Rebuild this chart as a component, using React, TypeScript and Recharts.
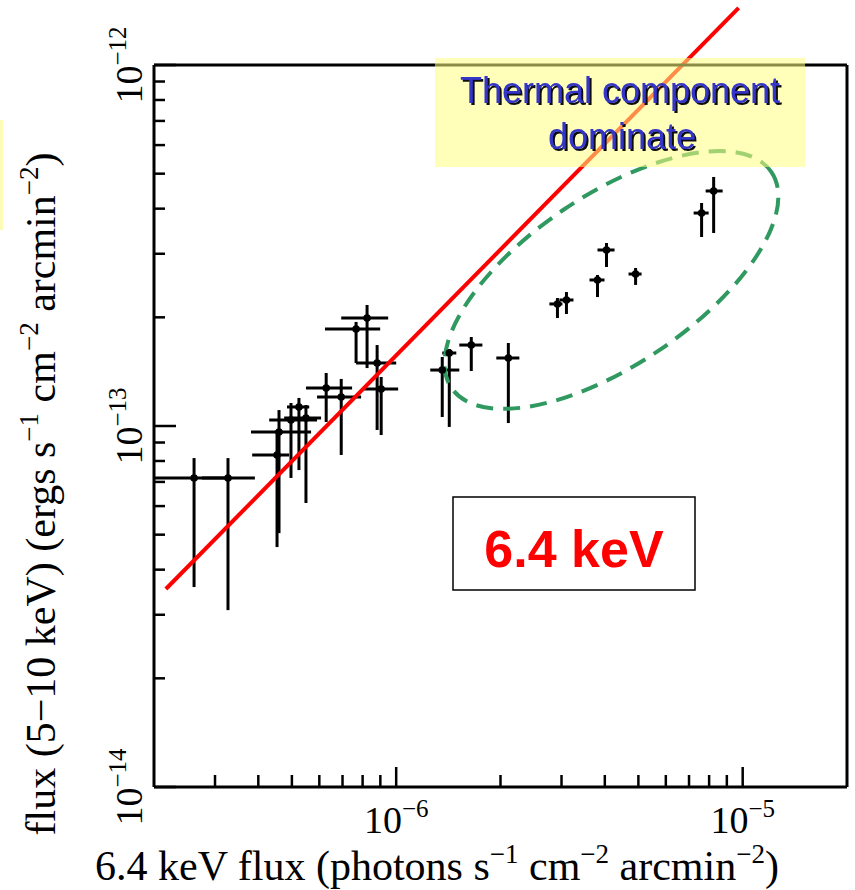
import React from 'react';
import { ScatterChart, Scatter, XAxis, YAxis, ErrorBar, ReferenceLine, ReferenceDot } from 'recharts';

// 6.4 keV line flux (photons s^-1 cm^-2 arcmin^-2): value, lower, upper
const xVal = [2.61e-7, 3.27e-7, 4.53e-7, 4.59e-7, 4.97e-7, 5.24e-7, 5.49e-7, 6.28e-7, 6.94e-7, 7.66e-7, 8.24e-7, 8.81e-7, 9.05e-7, 1.358e-6, 1.423e-6, 1.647e-6, 2.107e-6, 2.92e-6, 3.1e-6, 3.81e-6, 4.045e-6, 4.908e-6, 7.61e-6, 8.245e-6];
const xLow = [2.0e-7, 2.75e-7, 3.84e-7, 3.81e-7, 4.3e-7, 4.84e-7, 4.75e-7, 5.49e-7, 5.91e-7, 6.23e-7, 6.94e-7, 7.66e-7, 8.08e-7, 1.254e-6, 1.358e-6, 1.521e-6, 1.945e-6, 2.768e-6, 2.959e-6, 3.613e-6, 3.81e-6, 4.683e-6, 7.218e-6, 7.818e-6];
const xHigh = [3.3e-7, 3.91e-7, 4.91e-7, 5.68e-7, 5.91e-7, 5.61e-7, 6.07e-7, 7.46e-7, 7.92e-7, 8.99e-7, 9.48e-7, 1.0e-6, 1.013e-6, 1.521e-6, 1.491e-6, 1.773e-6, 2.267e-6, 3.018e-6, 3.248e-6, 3.992e-6, 4.267e-6, 5.107e-6, 7.974e-6, 8.753e-6];

// 5-10 keV flux (ergs s^-1 cm^-2 arcmin^-2): value, lower, upper
const yVal = [7.18e-14, 7.18e-14, 8.31e-14, 9.62e-14, 1.039e-13, 1.129e-13, 1.052e-13, 1.274e-13, 1.203e-13, 1.857e-13, 1.991e-13, 1.494e-13, 1.266e-13, 1.429e-13, 1.593e-13, 1.676e-13, 1.543e-13, 2.178e-13, 2.234e-13, 2.538e-13, 3.073e-13, 2.636e-13, 3.89e-13, 4.477e-13];
const yLow = [3.58e-14, 3.09e-14, 4.62e-14, 5.05e-14, 7.18e-14, 7.55e-14, 6.12e-14, 1.026e-13, 8.31e-14, 1.494e-13, 1.447e-13, 9.75e-14, 9.44e-14, 1.059e-13, 9.94e-14, 1.42e-13, 1.019e-13, 1.991e-13, 2.043e-13, 2.276e-13, 2.757e-13, 2.459e-13, 3.338e-13, 3.425e-13];
const yHigh = [8.15e-14, 8.15e-14, 9.75e-14, 1.107e-13, 1.158e-13, 1.196e-13, 1.143e-13, 1.402e-13, 1.35e-13, 1.942e-13, 2.164e-13, 1.676e-13, 1.367e-13, 1.553e-13, 1.634e-13, 1.764e-13, 1.698e-13, 2.262e-13, 2.35e-13, 2.62e-13, 3.213e-13, 2.74e-13, 4.147e-13, 4.896e-13];

// red reference relation (end points)
const fitX = [2.164e-7, 9.737e-6];
const fitY = [3.536e-14, 1.439e-12];

// centre of the dashed "thermal" ellipse
const ellipseX = 4.18e-6;
const ellipseY = 2.538e-13;

const xDomain = [2e-7, 2e-5];
const yDomain = [1e-14, 1e-12];
const xTicks = [3e-7, 4e-7, 5e-7, 6e-7, 7e-7, 8e-7, 9e-7, 1e-6, 2e-6, 3e-6, 4e-6, 5e-6, 6e-6, 7e-6, 8e-6, 9e-6, 1e-5];
const yTicks = [1e-14, 2e-14, 3e-14, 4e-14, 5e-14, 6e-14, 7e-14, 8e-14, 9e-14, 1e-13, 2e-13, 3e-13, 4e-13, 5e-13, 6e-13, 7e-13, 8e-13, 9e-13, 1e-12];

const points = xVal.map((x, i) => ({
  x,
  y: yVal[i],
  ex: [x - xLow[i], xHigh[i] - x],
  ey: [yVal[i] - yLow[i], yHigh[i] - yVal[i]],
}));

const SERIF = "'Liberation Serif', 'Times New Roman', serif";
const SANS = "'Liberation Sans', Arial, sans-serif";

const decade = (v: number) => Math.abs(Math.log10(v) - Math.round(Math.log10(v))) < 1e-6;
const expo = (v: number) => -Math.round(Math.log10(v));

function BottomTick({ x, y, payload }: any) {
  const major = decade(payload.value);
  return (
    <g>
      <line x1={x} y1={y} x2={x} y2={y - (major ? 20 : 12)} stroke="#000" strokeWidth={2.5} />
      {major && (
        <text x={x} y={y + 46} textAnchor="middle" fontFamily={SERIF} fontSize={38} fill="#000">
          10<tspan fontSize={25} dy={-16}>−{expo(payload.value)}</tspan>
        </text>
      )}
    </g>
  );
}

function TopTick({ x, y, payload }: any) {
  const major = decade(payload.value);
  return <line x1={x} y1={y} x2={x} y2={y + (major ? 20 : 12)} stroke="#000" strokeWidth={2.5} />;
}

function LeftTick({ x, y, payload }: any) {
  const major = decade(payload.value);
  return (
    <g>
      <line x1={x} y1={y} x2={x + (major ? 22 : 11)} y2={y} stroke="#000" strokeWidth={2.5} />
      {major && (
        <text transform={`translate(${x - 12}, ${y}) rotate(-90)`} textAnchor="middle" fontFamily={SERIF} fontSize={38} fill="#000">
          10<tspan fontSize={25} dy={-16}>−{expo(payload.value)}</tspan>
        </text>
      )}
    </g>
  );
}

function RightTick({ x, y, payload }: any) {
  const major = decade(payload.value);
  return <line x1={x} y1={y} x2={x - (major ? 22 : 11)} y2={y} stroke="#000" strokeWidth={2.5} />;
}

const dot = (p: any) => <circle cx={p.cx} cy={p.cy} r={3.8} fill="#000" />;

const thermalEllipse = (p: any) => (
  <ellipse
    cx={p.cx}
    cy={p.cy}
    rx={193}
    ry={85}
    transform={`rotate(-34 ${p.cx} ${p.cy})`}
    fill="none"
    stroke="#2f9960"
    strokeWidth={4}
    strokeDasharray="17 10"
  />
);

export default function App() {
  const axisLine = { stroke: '#000', strokeWidth: 3 };
  return (
    <div style={{ position: 'absolute', left: 0, top: 0, width: 855, height: 890, background: '#fff', overflow: 'hidden' }}>
      <ScatterChart width={855} height={890} margin={{ top: 0, right: 0, bottom: 0, left: 0 }}>
        <XAxis
          dataKey="x"
          type="number"
          scale="log"
          domain={xDomain}
          ticks={xTicks}
          interval={0}
          height={103}
          tickSize={0}
          tickMargin={0}
          tickLine={false}
          axisLine={axisLine}
          tick={<BottomTick />}
        />
        <XAxis
          xAxisId="top"
          orientation="top"
          type="number"
          scale="log"
          domain={xDomain}
          ticks={xTicks}
          interval={0}
          height={65}
          tickSize={0}
          tickMargin={0}
          tickLine={false}
          axisLine={axisLine}
          tick={<TopTick />}
        />
        <YAxis
          dataKey="y"
          type="number"
          scale="log"
          domain={yDomain}
          ticks={yTicks}
          interval={0}
          width={154}
          tickSize={0}
          tickMargin={0}
          tickLine={false}
          axisLine={axisLine}
          tick={<LeftTick />}
        />
        <YAxis
          yAxisId="right"
          orientation="right"
          type="number"
          scale="log"
          domain={yDomain}
          ticks={yTicks}
          interval={0}
          width={8}
          tickSize={0}
          tickMargin={0}
          tickLine={false}
          axisLine={axisLine}
          tick={<RightTick />}
        />
        <ReferenceDot x={ellipseX} y={ellipseY} r={0} ifOverflow="visible" shape={thermalEllipse} />
        <Scatter data={points} isAnimationActive={false} shape={dot} legendType="none">
          <ErrorBar dataKey="ex" direction="x" width={0} stroke="#000" strokeWidth={3} />
          <ErrorBar dataKey="ey" direction="y" width={0} stroke="#000" strokeWidth={3} />
        </Scatter>
        <ReferenceLine
          segment={[{ x: fitX[0], y: fitY[0] }, { x: fitX[1], y: fitY[1] }]}
          ifOverflow="visible"
          stroke="#ff0000"
          strokeWidth={4}
        />
      </ScatterChart>

      <svg width={855} height={890} style={{ position: 'absolute', left: 0, top: 0, pointerEvents: 'none' }}>
        <defs>
          <filter id="txtShadow" x="-5%" y="-20%" width="110%" height="140%">
            <feDropShadow dx={2} dy={2} stdDeviation={0.4} floodColor="#111" floodOpacity={1} />
          </filter>
        </defs>
        <rect x={0} y={120} width={3} height={110} fill="#fdfbb8" />

        <rect x={435} y={58} width={370} height={109} fill="#ffff80" fillOpacity={0.55} />
        <text x={620} y={103} fill="#3434c8" fontFamily={SANS} fontSize={36} textAnchor="middle" filter="url(#txtShadow)">
          Thermal component
        </text>
        <text x={622} y={149} fill="#3434c8" fontFamily={SANS} fontSize={36} textAnchor="middle" filter="url(#txtShadow)">
          dominate
        </text>

        <rect x={453} y={497} width={242} height={93} fill="#fff" stroke="#000" strokeWidth={1.5} />
        <text x={574} y={567} textAnchor="middle" fontFamily={SANS} fontWeight="bold" fontSize={52} fill="#ff0000">
          6.4 keV
        </text>

        <text x={437} y={880} textAnchor="middle" fontFamily={SERIF} fontSize={42} fill="#000">
          6.4 keV flux (photons s<tspan fontSize={27} dy={-17}>−1</tspan>
          <tspan dy={17}> cm</tspan>
          <tspan fontSize={27} dy={-17}>−2</tspan>
          <tspan dy={17}> arcmin</tspan>
          <tspan fontSize={27} dy={-17}>−2</tspan>
          <tspan dy={17}>)</tspan>
        </text>

        <text transform="translate(55, 494) rotate(-90)" textAnchor="middle" fontFamily={SERIF} fontSize={42} fill="#000">
          flux (5−10 keV) (ergs s<tspan fontSize={27} dy={-17}>−1</tspan>
          <tspan dy={17}> cm</tspan>
          <tspan fontSize={27} dy={-17}>−2</tspan>
          <tspan dy={17}> arcmin</tspan>
          <tspan fontSize={27} dy={-17}>−2</tspan>
          <tspan dy={17}>)</tspan>
        </text>
      </svg>
    </div>
  );
}
